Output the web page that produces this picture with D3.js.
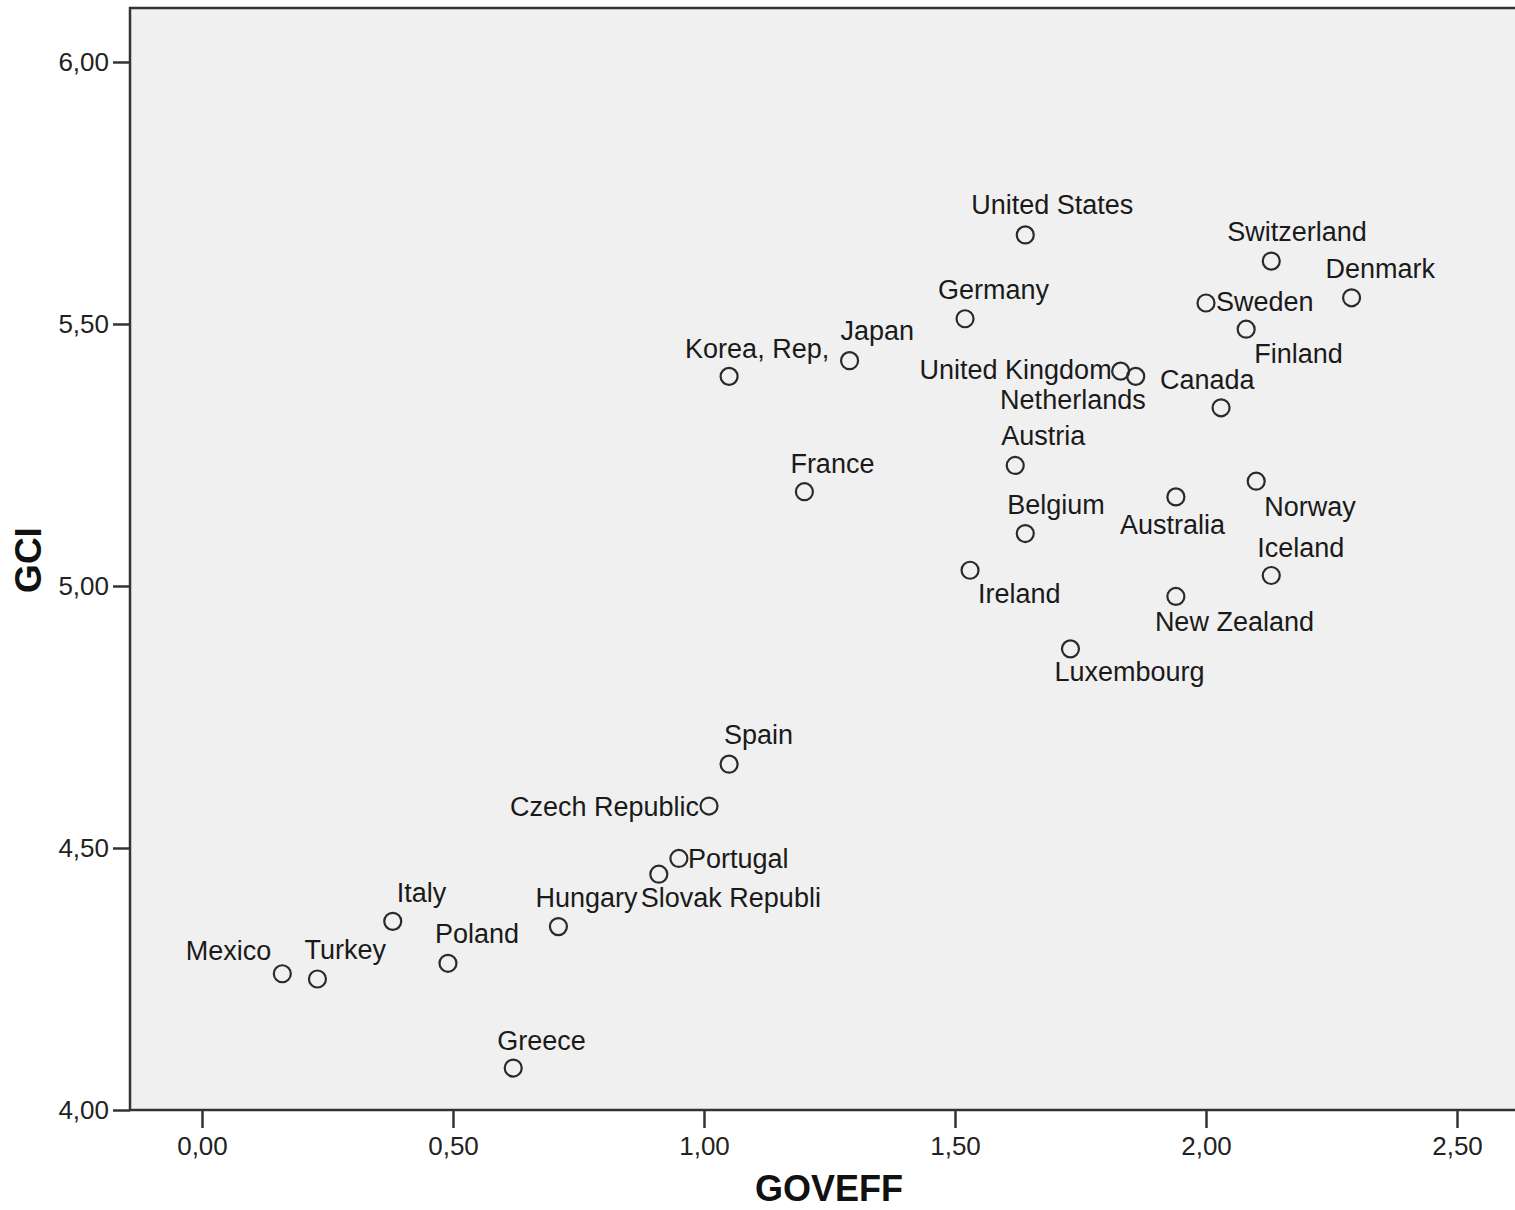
<!DOCTYPE html>
<html>
<head>
<meta charset="utf-8">
<script src="https://cdn.jsdelivr.net/npm/d3@7"></script>
<style>
body { margin: 0; background: #fff; }
text { font-family: "Liberation Sans", Arial, sans-serif; }
</style>
</head>
<body>
<svg id="chart" width="1515" height="1210"></svg>
<script>
// data
var countries = ['United States','Switzerland','Denmark','Sweden','Finland','Germany','Japan','Korea, Rep,',
	'United Kingdom','Netherlands','Canada','Austria','France','Norway','Australia','Belgium','Ireland',
	'Iceland','New Zealand','Luxembourg','Spain','Czech Republic','Portugal','Slovak Republi','Hungary',
	'Italy','Poland','Mexico','Turkey','Greece']
var goveff = [1.64,2.13,2.29,2.00,2.08,1.52,1.29,1.05,
	1.83,1.86,2.03,1.62,1.20,2.10,1.94,1.64,1.53,
	2.13,1.94,1.73,1.05,1.01,0.95,0.91,0.71,
	0.38,0.49,0.16,0.23,0.62]
var gci = [5.67,5.62,5.55,5.54,5.49,5.51,5.43,5.40,
	5.41,5.40,5.34,5.23,5.18,5.20,5.17,5.10,5.03,
	5.02,4.98,4.88,4.66,4.58,4.48,4.45,4.35,
	4.36,4.28,4.26,4.25,4.08]
var xTicks = [0,0.5,1,1.5,2,2.5]
var yTicks = [4,4.5,5,5.5,6]

// label placement: anchor, dx, dy (from point centre)
var labelPos = {
	'United States':['start',-54,-30], 'Switzerland':['start',-44,-30], 'Denmark':['start',-26,-29],
	'Sweden':['start',10,-1], 'Finland':['start',8,24], 'Germany':['start',-27,-29],
	'Japan':['start',-9,-30], 'Korea, Rep,':['start',-44,-28], 'United Kingdom':['end',-9,-2],
	'Netherlands':['end',10,23], 'Canada':['start',-61,-28], 'Austria':['start',-14,-30],
	'France':['start',-14,-28], 'Norway':['start',8,25], 'Australia':['start',-56,28],
	'Belgium':['start',-18,-29], 'Ireland':['start',8,23], 'Iceland':['start',-14,-28],
	'New Zealand':['start',-21,25], 'Luxembourg':['start',-16,23], 'Spain':['start',-5,-30],
	'Czech Republic':['end',-10,0], 'Portugal':['start',9,0], 'Slovak Republi':['start',-18,23],
	'Hungary':['start',-23,-29], 'Italy':['start',4,-29], 'Poland':['start',-13,-30],
	'Mexico':['end',-11,-23], 'Turkey':['start',-13,-29], 'Greece':['start',-16,-28]
}

var svg = d3.select('#chart')
var plot = {left:130, right:1520, top:8, bottom:1110}

var x = d3.scaleLinear().domain([-0.1434, 2.6255]).range([plot.left, plot.right])
var y = d3.scaleLinear().domain([4, 6.103]).range([plot.bottom, plot.top])
var fmt = function(d){ return d3.format('.2f')(d).replace('.', ',') }

svg.append('rect')
	.attr('x',plot.left).attr('y',plot.top)
	.attr('width',plot.right-plot.left).attr('height',plot.bottom-plot.top)
	.attr('fill','#f0f0f0')
	.attr('stroke','#333').attr('stroke-width',2.5)

var xAxis = svg.append('g')
	.attr('transform','translate(0,' + plot.bottom + ')')
	.call(d3.axisBottom(x).tickValues(xTicks).tickFormat(fmt).tickSize(18).tickPadding(9))
var yAxis = svg.append('g')
	.attr('transform','translate(' + plot.left + ',0)')
	.call(d3.axisLeft(y).tickValues(yTicks).tickFormat(fmt).tickSize(17).tickPadding(4))

;[xAxis,yAxis].forEach(function(a){
	a.select('.domain').remove()
	a.selectAll('line').attr('stroke','#333').attr('stroke-width',2.5)
	a.selectAll('text')
		.attr('fill','#222')
		.style('font-size','26px')
		.style('font-family','"Liberation Sans", Arial, sans-serif')
})

svg.append('text')
	.attr('x',829).attr('y',1201)
	.attr('text-anchor','middle')
	.style('font-size','36px').style('font-weight','bold')
	.attr('fill','#111')
	.text('GOVEFF')
svg.append('text')
	.attr('transform','translate(41,' + 560 + ') rotate(-90)')
	.attr('text-anchor','middle')
	.style('font-size','37px').style('font-weight','bold')
	.attr('fill','#111')
	.text('GCI')

var pts = countries.map(function(c,i){ return {n:c, gx:goveff[i], gy:gci[i]} })

var g = svg.append('g')
g.selectAll('circle')
	.data(pts)
	.enter().append('circle')
	.attr('cx',function(d){ return x(d.gx) })
	.attr('cy',function(d){ return y(d.gy) })
	.attr('r',8.5)
	.attr('fill','none')
	.attr('stroke','#2a2a2a')
	.attr('stroke-width',2.2)

g.selectAll('text.lbl')
	.data(pts)
	.enter().append('text')
	.attr('class','lbl')
	.attr('x',function(d){ return x(d.gx) + labelPos[d.n][1] })
	.attr('y',function(d){ return y(d.gy) + labelPos[d.n][2] })
	.attr('dy','0.35em')
	.attr('text-anchor',function(d){ return labelPos[d.n][0] })
	.attr('fill','#1a1a1a')
	.style('font-size','27px')
	.text(function(d){ return d.n })
</script>
</body>
</html>
